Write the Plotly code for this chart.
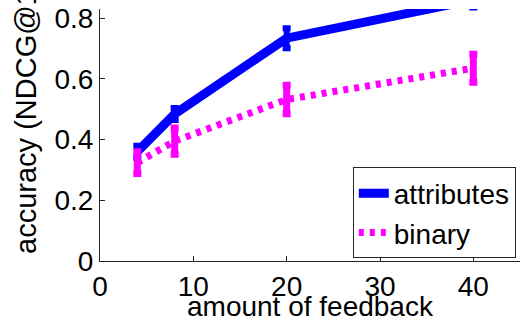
import plotly.graph_objects as go

# amount of feedback (x) and mean accuracy with error for each method
feedback = [4, 8, 20, 40]
attributes = [0.36, 0.484, 0.734, 0.86]
attributes_err = [0.02, 0.02, 0.033, 0.025]
binary = [0.324, 0.395, 0.532, 0.635]
binary_err = [0.036, 0.043, 0.047, 0.046]

x_ticks = [0, 10, 20, 30, 40]
y_ticks = [0, 0.2, 0.4, 0.6, 0.8]

FONT = "Liberation Sans, Arial, Helvetica, sans-serif"
BLUE = "#0000ff"
MAGENTA = "#ff00ff"

fig = go.Figure()

fig.add_trace(go.Scatter(
    x=feedback, y=attributes, name="attributes", mode="lines",
    line=dict(color=BLUE, width=9),
    error_y=dict(type="data", array=attributes_err, visible=True,
                 color=BLUE, thickness=6, width=4),
))

fig.add_trace(go.Scatter(
    x=feedback, y=binary, name="binary", mode="lines",
    line=dict(color=MAGENTA, width=7, dash="5px,6px"),
    error_y=dict(type="data", array=binary_err, visible=True,
                 color=MAGENTA, thickness=7, width=4),
))

axis_common = dict(
    showline=True, linecolor="#262626", linewidth=1,
    ticks="inside", ticklen=5, tickcolor="#262626", tickwidth=1,
    showgrid=False, zeroline=False,
    tickfont=dict(family=FONT, size=28, color="black"),
)

fig.update_xaxes(range=[0, 45], tickvals=x_ticks,
                 ticktext=[str(v) for v in x_ticks],
                 **axis_common)
fig.update_yaxes(range=[0, 0.83], tickvals=y_ticks,
                 ticktext=["0", "0.2", "0.4", "0.6", "0.8"],
                 ticklabelstandoff=0,
                 **axis_common)

# x-axis title below the tick labels
fig.add_annotation(
    text="amount of feedback",
    xref="paper", yref="paper", x=0.5, y=-0.1825,
    xanchor="center", yanchor="middle", showarrow=False,
    font=dict(family=FONT, size=28, color="black"),
)

# y-axis title, anchored at its bottom end and running up past the top edge
fig.add_annotation(
    text="accuracy (NDCG@10)", textangle=-90,
    xref="paper", yref="paper", x=-0.175, y=0.02,
    xanchor="center", yanchor="bottom", showarrow=False,
    font=dict(family=FONT, size=29, color="black"),
)

fig.update_layout(
    width=521, height=321,
    margin=dict(l=100, r=1, t=9, b=60),
    paper_bgcolor="white", plot_bgcolor="white",
    showlegend=True,
    legend=dict(
        x=0.99, y=0.01, xanchor="right", yanchor="bottom",
        bgcolor="white", bordercolor="#262626", borderwidth=1,
        font=dict(family=FONT, size=28, color="black"),
        tracegroupgap=0, itemwidth=30,
    ),
)

fig.write_html("out.html")
